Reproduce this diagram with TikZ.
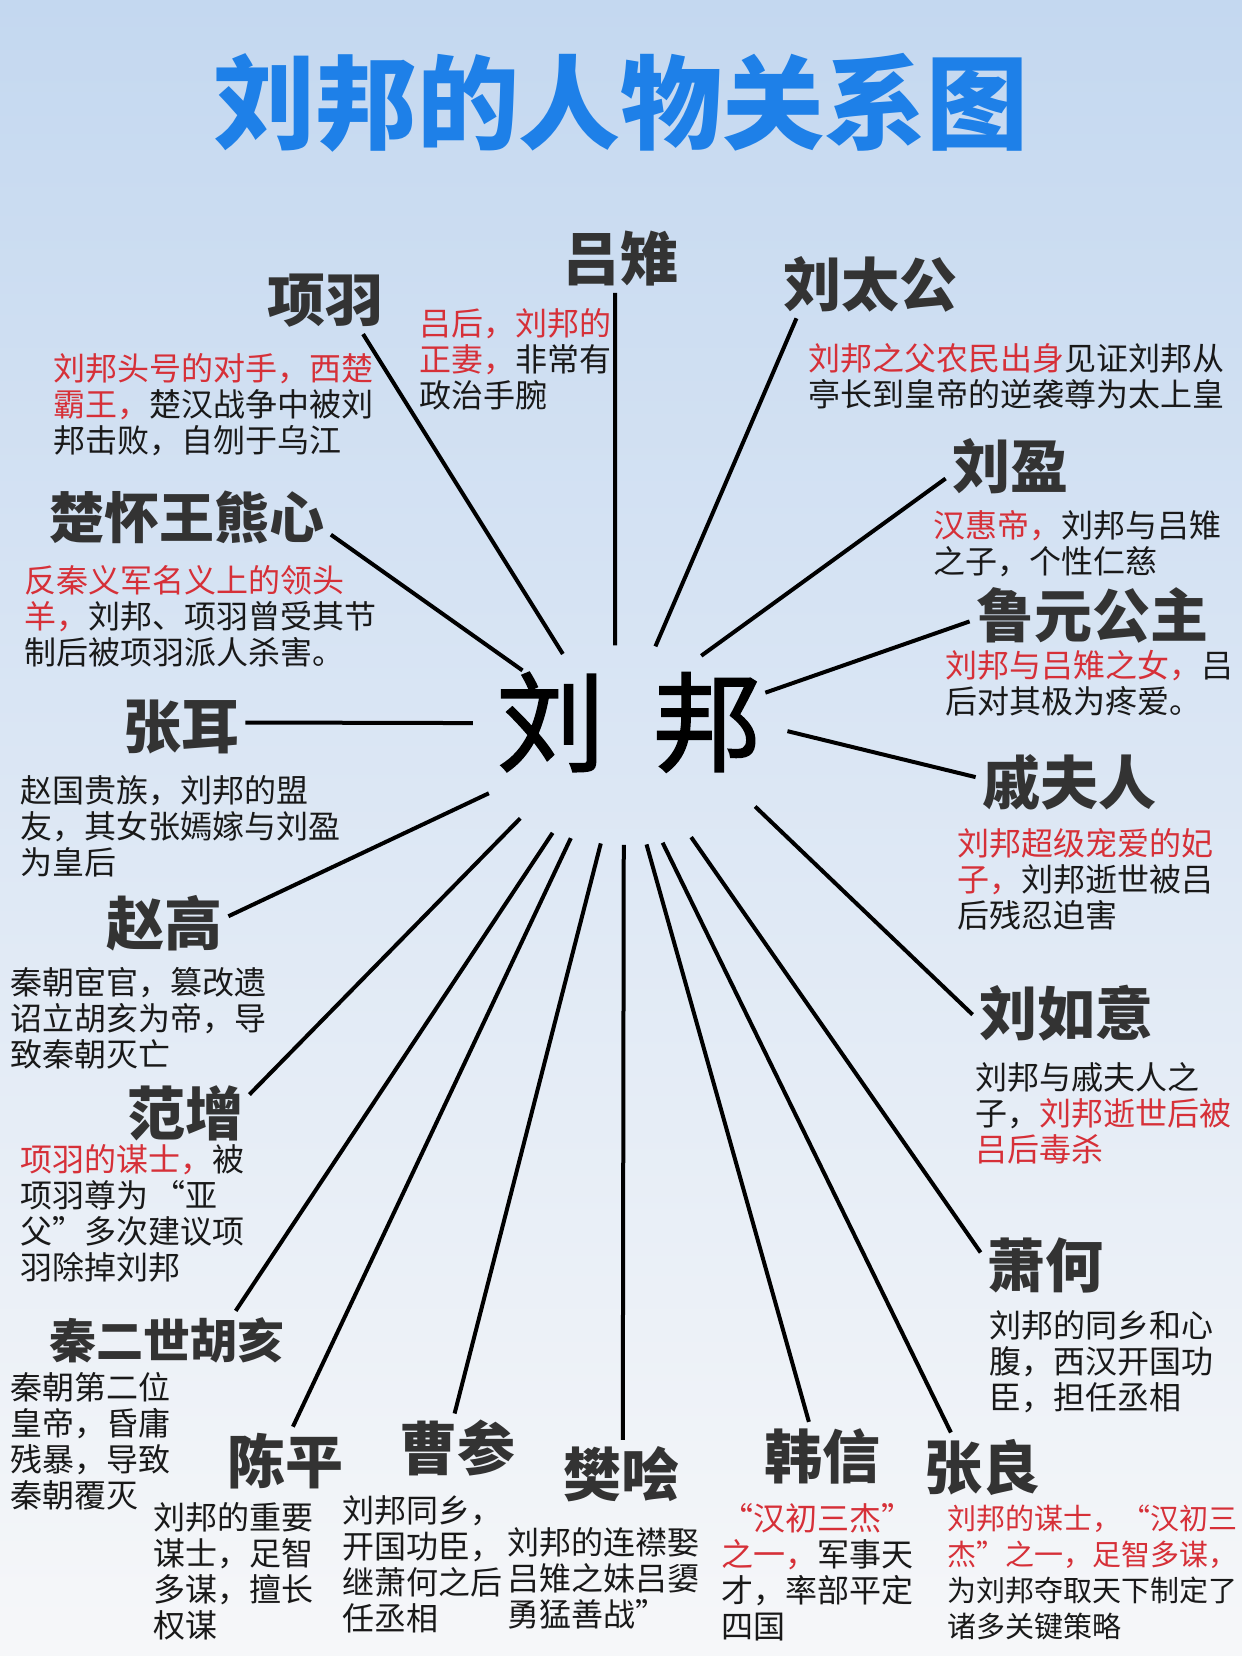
\documentclass[tikz,border=0pt]{standalone}
\usepackage{fontspec}
\setmainfont{Noto Sans CJK SC}
\newfontfamily\hubfont{Noto Sans CJK SC}[FakeBold=1.6]
\usetikzlibrary{shapes.geometric}

\definecolor{titleblue}{RGB}{30,128,232}
\definecolor{namegray}{RGB}{51,51,51}
\definecolor{notered}{RGB}{214,48,56}
\definecolor{bgtop}{RGB}{196,216,240}
\definecolor{bgmid}{RGB}{222,231,244}
\definecolor{bgbot}{RGB}{246,247,249}
\newcommand{\hl}[1]{\textcolor{notered}{#1}}

\begin{document}
\begin{tikzpicture}[x=0.5pt,y=-0.5pt,
  person/.style={font=\fontsize{29}{29}\selectfont\bfseries,text=namegray,inner sep=3pt},
  bio/.style={font=\fontsize{16}{18}\selectfont,text=black!90,align=left,anchor=north west,inner sep=0pt},
  spoke/.style={line width=2pt}]
  \shade[top color=bgtop,middle color=bgmid,bottom color=bgbot] (0,0) rectangle (1242,1656);
  \useasboundingbox (0,0) rectangle (1242,1656);

  \node[font=\fontsize{51}{51}\selectfont\bfseries,text=titleblue] (title) at (621,103) {刘邦的人物关系图};

  % centre
  \node[ellipse,minimum width=160pt,minimum height=100pt,inner xsep=-10pt,inner ysep=0pt,outer sep=0pt,
    text height=40pt,text depth=22pt,font=\fontsize{54}{54}\hubfont] (liubang) at (629,745) {刘\hspace{0.45em}邦};

  % people
  \node[person] (lvzhi) at (620,259) {吕雉};
  \node[person] (xiangyu) at (325,301) {项羽};
  \node[person] (liutaigong) at (870,284) {刘太公};
  \node[person] (liuying) at (1010,466) {刘盈};
  \node[person] (luyuan) at (1092,615) {鲁元公主};
  \node[person] (qifuren) at (1069,782) {戚夫人};
  \node[person] (liuruyi) at (1066,1013) {刘如意};
  \node[person] (xiaohe) at (1045,1265) {萧何};
  \node[person] (zhangliang) at (982,1467) {张良};
  \node[person] (hanxin) at (822,1456) {韩信};
  \node[person] (fankuai) at (621,1474) {樊哙};
  \node[person] (caocan) at (457,1448) {曹参};
  \node[person] (chenping) at (285,1461) {陈平};
  \node[person,font=\fontsize{23.5}{23.5}\selectfont\bfseries] (huhai) at (167,1340) {秦二世胡亥};
  \node[person] (fanzeng) at (185,1113) {范增};
  \node[person] (zhaogao) at (164,923) {赵高};
  \node[person] (zhanger) at (181,727) {张耳};
  \node[person,font=\fontsize{27.5}{27.5}\selectfont\bfseries] (huaiwang) at (187,517) {楚怀王熊心};

  % notes
  \node[bio] (lvzhi-bio) at (419,308) {\hl{吕后，刘邦的}\\\hl{正妻，}非常有\\政治手腕};
  \node[bio] (xiangyu-bio) at (53,353) {\hl{刘邦头号的对手，西楚}\\\hl{霸王，}楚汉战争中被刘\\邦击败，自刎于乌江};
  \node[bio] (liutaigong-bio) at (808,343) {\hl{刘邦之父农民出身}见证刘邦从\\亭长到皇帝的逆袭尊为太上皇};
  \node[bio] (liuying-bio) at (933,510) {\hl{汉惠帝，}刘邦与吕雉\\之子，个性仁慈};
  \node[bio] (luyuan-bio) at (945,650) {\hl{刘邦与吕雉之女，}吕\\后对其极为疼爱。};
  \node[bio] (qifuren-bio) at (957,828) {\hl{刘邦超级宠爱的妃}\\\hl{子，}刘邦逝世被吕\\后残忍迫害};
  \node[bio] (liuruyi-bio) at (975,1062) {刘邦与戚夫人之\\子，\hl{刘邦逝世后被}\\\hl{吕后毒杀}};
  \node[bio] (xiaohe-bio) at (989,1310) {刘邦的同乡和心\\腹，西汉开国功\\臣，担任丞相};
  \node[bio,font=\fontsize{14.5}{18}\selectfont] (zhangliang-bio) at (947,1505) {\hl{刘邦的谋士，“汉初三}\\\hl{杰”之一，足智多谋，}\\为刘邦夺取天下制定了\\诸多关键策略};
  \node[bio] (hanxin-bio) at (721,1503) {\hl{“汉初三杰”}\\\hl{之一，}军事天\\才，率部平定\\四国};
  \node[bio] (fankuai-bio) at (507,1527) {刘邦的连襟娶\\吕雉之妹吕嬃\\勇猛善战”};
  \node[bio] (caocan-bio) at (342,1495) {刘邦同乡，\\开国功臣，\\继萧何之后\\任丞相};
  \node[bio] (chenping-bio) at (153,1502) {刘邦的重要\\谋士，足智\\多谋，擅长\\权谋};
  \node[bio] (huhai-bio) at (10,1372) {秦朝第二位\\皇帝，昏庸\\残暴，导致\\秦朝覆灭};
  \node[bio] (fanzeng-bio) at (20,1144) {\hl{项羽的谋士，}被\\项羽尊为\,“亚\\父”多次建议项\\羽除掉刘邦};
  \node[bio] (zhaogao-bio) at (10,967) {秦朝宦官，篡改遗\\诏立胡亥为帝，导\\致秦朝灭亡};
  \node[bio] (zhanger-bio) at (20,775) {赵国贵族，刘邦的盟\\友，其女张嫣嫁与刘盈\\为皇后};
  \node[bio] (huaiwang-bio) at (24,565) {\hl{反秦义军名义上的领头}\\\hl{羊，}刘邦、项羽曾受其节\\制后被项羽派人杀害。};

  % spokes
  \foreach \who/\a/\b in {xiangyu/126/-41,lvzhi/98/-98,liutaigong/75/-155,liuying/51/-169,
      luyuan/21/-177,qifuren/5/177,liuruyi/-26/-179,xiaohe/-56/169,zhangliang/-71/132,
      hanxin/-80/111,fankuai/-93.5/87,caocan/-106/94,chenping/-122/77,huhai/-131/23,
      fanzeng/-146/16,zhaogao/-161/6,zhanger/172/4,huaiwang/145/-7.5}
    \draw[spoke] (liubang.\a) -- (\who.\b);
\end{tikzpicture}
\end{document}
